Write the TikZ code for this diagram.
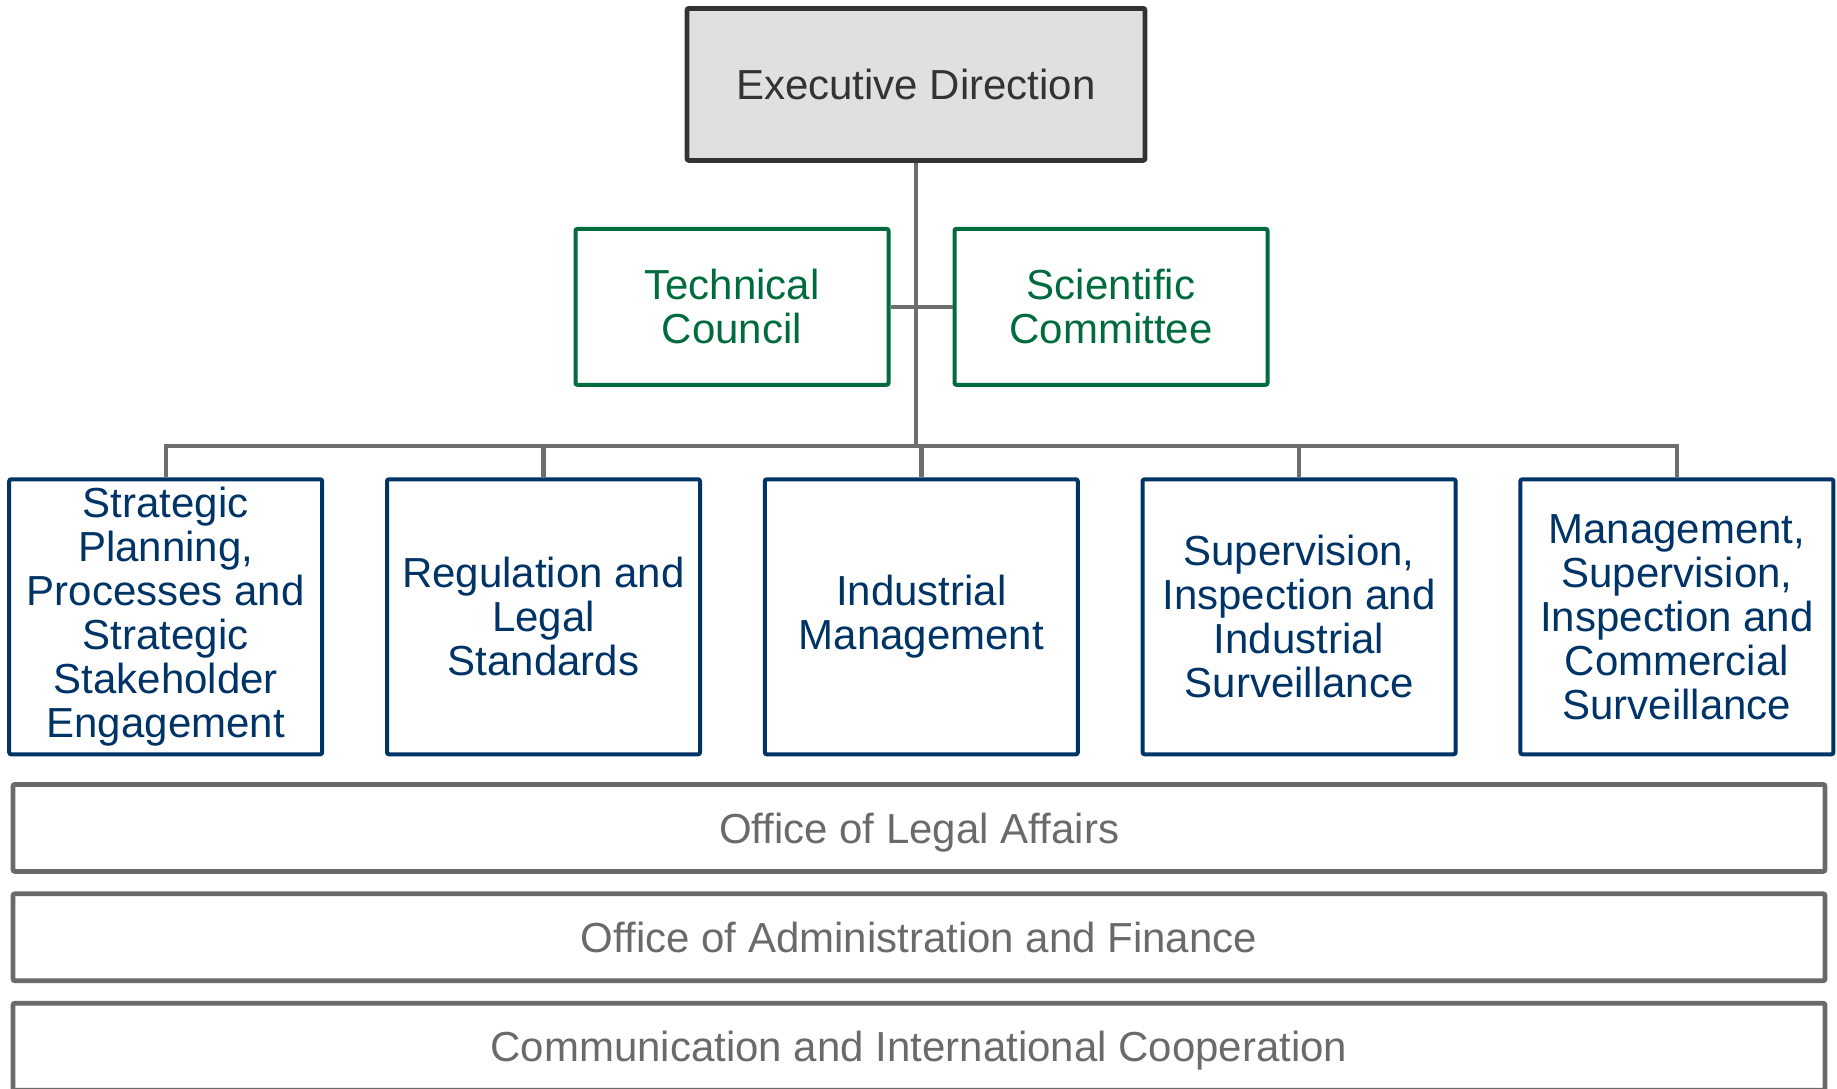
\documentclass[tikz,border=0pt]{standalone}
\usepackage{fontspec}
\setmainfont{Liberation Sans}
\usetikzlibrary{positioning}

\definecolor{headfill}{HTML}{E0E0E0}
\definecolor{headline}{HTML}{333333}
\definecolor{boardgreen}{HTML}{006B3C}
\definecolor{deptblue}{HTML}{003366}
\definecolor{officegray}{HTML}{6A6A6A}
\definecolor{linkgray}{HTML}{6E6E6E}

\begin{document}
\begin{tikzpicture}[
  font=\fontsize{21}{22}\selectfont,
  head/.style={draw=headline, fill=headfill, text=headline, line width=2.4pt,
               rounded corners=1pt, minimum width=229pt, minimum height=76pt,
               inner sep=0pt},
  board/.style={draw=boardgreen, text=boardgreen, line width=2pt, align=center,
                rounded corners=1pt, minimum width=156.5pt, minimum height=78pt,
                inner sep=0pt},
  dept/.style={draw=deptblue, text=deptblue, line width=2pt, align=center,
               rounded corners=1pt, minimum width=156.5pt, minimum height=137.5pt,
               inner sep=0pt},
  office/.style={draw=officegray, text=officegray, line width=2.4pt,
                 rounded corners=1pt, minimum width=906pt, minimum height=43.5pt,
                 inner sep=0pt, text depth=0pt},
  link/.style={draw=linkgray, line width=2.2pt},
]
  \useasboundingbox (0,0) rectangle (918.5pt,-544pt);

  \node[head] (exec) at (458pt,-42.2pt) {Executive Direction};

  \node[board, anchor=north] (tech) at ([xshift=-92pt,yshift=-32pt]exec.south)
    {Technical\\Council};
  \node[board, anchor=north] (sci) at ([xshift=97.5pt,yshift=-32pt]exec.south)
    {Scientific\\Committee};

  \node[dept] (d1) at (82.85pt,-308.4pt)
    {Strategic\\Planning,\\Processes and\\Strategic\\Stakeholder\\Engagement};
  \node[dept, right=30.4pt of d1] (d2) {Regulation and\\Legal\\Standards};
  \node[dept, right=30.4pt of d2] (d3) {Industrial\\Management};
  \node[dept, right=30.4pt of d3] (d4)
    {Supervision,\\Inspection and\\Industrial\\Surveillance};
  \node[dept, right=30.4pt of d4] (d5)
    {Management,\\Supervision,\\Inspection and\\Commercial\\Surveillance};

  \node[office, anchor=north] (legal) at (459.5pt,-391pt) {Office of Legal Affairs};
  \node[office, below=8.8pt of legal] (admin) {Office of Administration and Finance};
  \node[office, below=8.8pt of admin] (comm) {Communication and International Cooperation};

  % reporting lines
  \coordinate (bus) at (458pt,-223pt);
  \draw[link] (exec.south) -- (exec.south |- bus);
  \draw[link] (tech.east) -- (sci.west);
  \draw[link] (d1.north) -- (d1.north |- bus) -- (d5.north |- bus) -- (d5.north);
  \foreach \d in {d2,d3,d4}
    \draw[link] (\d.north) -- (\d.north |- bus);
\end{tikzpicture}
\end{document}
